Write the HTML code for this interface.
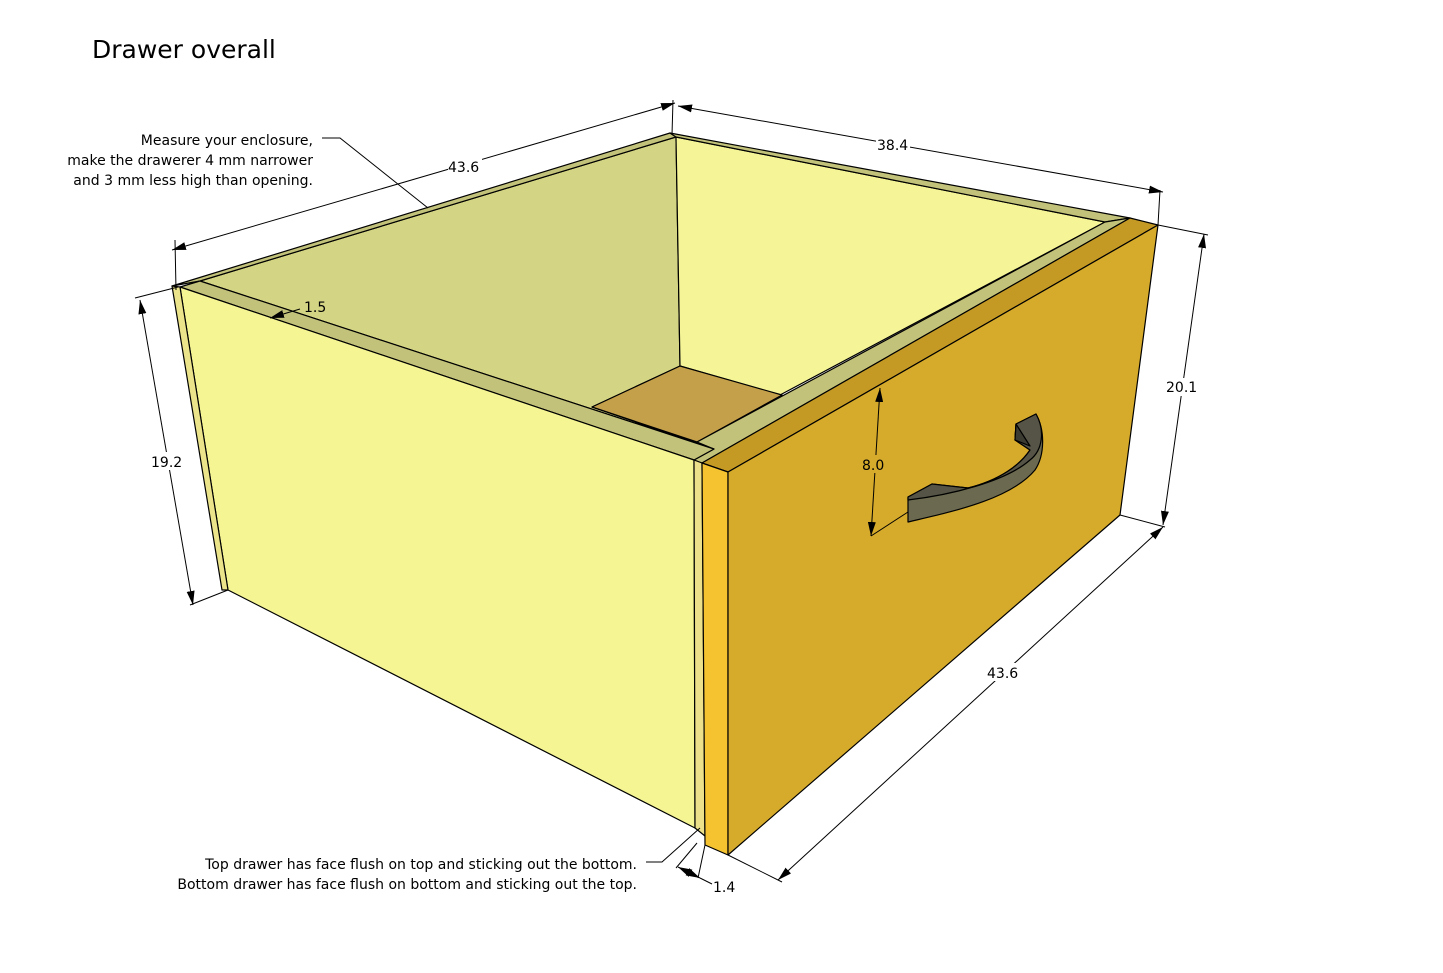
<!DOCTYPE html>
<html><head><meta charset="utf-8"><style>
html,body{margin:0;padding:0;background:#fff;}
svg{display:block;}
text{font-family:"DejaVu Sans","Liberation Sans",sans-serif;fill:#000;}
</style></head><body>
<svg width="1443" height="973" viewBox="0 0 1443 973" xmlns="http://www.w3.org/2000/svg">
<defs><marker id="a" markerUnits="userSpaceOnUse" markerWidth="14" markerHeight="8" refX="14" refY="4" orient="auto-start-reverse"><path d="M0,0 L14,4 L0,8z" fill="#000"/></marker></defs>
<rect width="1443" height="973" fill="#fff"/>
<text x="92" y="58" font-size="25">Drawer overall</text>
<g stroke="#000" stroke-width="1.2" stroke-linejoin="round">
<polygon points="200,281 676,137 680,366 592,407 714,449" fill="#d4d584"/>
<polygon points="676,137 1105,222 780,395 680,366" fill="#f5f598"/>
<polygon points="592,407 680,366 782,395 697,442" fill="#c4a04a"/>
<polygon points="172,286 670,133 676,137 200,281" fill="#c2c27a"/>
<polygon points="670,133 1130,218 1105,222 676,137" fill="#c2c27a"/>
<polygon points="697,442 1105,222 1130,218 702,463 694,460 714,449" fill="#c2c27a"/>
<polygon points="180,287 200,281 714,449 694,460" fill="#c2c27a"/>
<polygon points="180,287 694,460 695,828 228,590" fill="#f5f594"/>
<polygon points="172,286 180,287 228,590 222,590" fill="#ebe48a"/>
<polygon points="694,460 702,463 705,836 695,828" fill="#ede08a"/>
<polygon points="702,463 1130,218 1158,225 728,472" fill="#c49a25"/>
<polygon points="702,463 728,472 728,855 705,845" fill="#f5c330"/>
<polygon points="728,472 1158,225 1120,515 728,855" fill="#d6aa2a"/>
<path d="M908,497 L932,484 L968,488 C1000,480 1020,465 1030,450 L1015,440 L1016,424 L1036,414 C1045,430 1045,455 1035,470 C1010,500 950,512 908,522 Z" fill="#6b6a50"/>
<path d="M908,497 L932,484 L968,488 C1000,480 1020,465 1030,450 L1015,440 L1016,424 L1036,414 C1045,430 1043,450 1030,460 C1005,482 950,495 908,500 Z" fill="#555446"/>
<polygon points="1015,440 1016,424 1030,446" fill="#3d3c32"/>
</g>
<g stroke="#000" stroke-width="1" fill="none">
<line x1="172" y1="250" x2="675" y2="103" marker-start="url(#a)" marker-end="url(#a)"/>
<line x1="175" y1="240" x2="176" y2="290"/>
<line x1="673" y1="100" x2="672" y2="135"/>
<line x1="678" y1="106" x2="1163" y2="192" marker-start="url(#a)" marker-end="url(#a)"/>
<line x1="1160" y1="190" x2="1158" y2="225"/>
<line x1="1158" y1="225" x2="1208" y2="235"/>
<line x1="1120" y1="515" x2="1165" y2="527"/>
<line x1="1204" y1="234" x2="1163" y2="525" marker-start="url(#a)" marker-end="url(#a)"/>
<line x1="1163" y1="527" x2="778" y2="880" marker-start="url(#a)" marker-end="url(#a)"/>
<line x1="728" y1="855" x2="782" y2="882"/>
<line x1="135" y1="298" x2="178" y2="287"/>
<line x1="190" y1="605" x2="228" y2="590"/>
<line x1="140" y1="300" x2="193" y2="605" marker-start="url(#a)" marker-end="url(#a)"/>
<line x1="880" y1="388" x2="871" y2="536" marker-start="url(#a)" marker-end="url(#a)"/>
<line x1="871" y1="536" x2="908" y2="512"/>
<line x1="300" y1="309" x2="270" y2="318" marker-end="url(#a)"/>
<line x1="697" y1="843" x2="676" y2="868"/>
<line x1="705" y1="845" x2="698" y2="878"/>
<line x1="678" y1="867" x2="700" y2="878" marker-start="url(#a)" marker-end="url(#a)"/>
<line x1="700" y1="878" x2="712" y2="884"/>
<polyline points="322,138 340,138 428,208"/>
<polyline points="646,862 662,862 700,828"/>
</g>
<g font-size="14">
<rect x="448" y="158" width="34" height="18" fill="#fff"/>
<text x="448" y="172">43.6</text>
<rect x="876" y="136" width="34" height="18" fill="#fff"/>
<text x="877" y="150">38.4</text>
<rect x="1164" y="378" width="36" height="18" fill="#fff"/>
<text x="1166" y="392">20.1</text>
<rect x="150" y="452" width="36" height="18" fill="#fff"/>
<text x="151" y="467">19.2</text>
<rect x="986" y="663" width="36" height="18" fill="#fff"/>
<text x="987" y="678">43.6</text>
<rect x="862" y="455" width="26" height="18" fill="#d6aa2a"/>
<text x="862" y="470">8.0</text>
<text x="304" y="312">1.5</text>
<text x="713" y="892">1.4</text>
<text x="313" y="145" text-anchor="end">Measure your enclosure,</text>
<text x="313" y="165" text-anchor="end">make the drawerer 4 mm narrower</text>
<text x="313" y="185" text-anchor="end">and 3 mm less high than opening.</text>
<text x="637" y="869" text-anchor="end">Top drawer has face flush on top and sticking out the bottom.</text>
<text x="637" y="889" text-anchor="end">Bottom drawer has face flush on bottom and sticking out the top.</text>
</g>
</svg>
</body></html>
